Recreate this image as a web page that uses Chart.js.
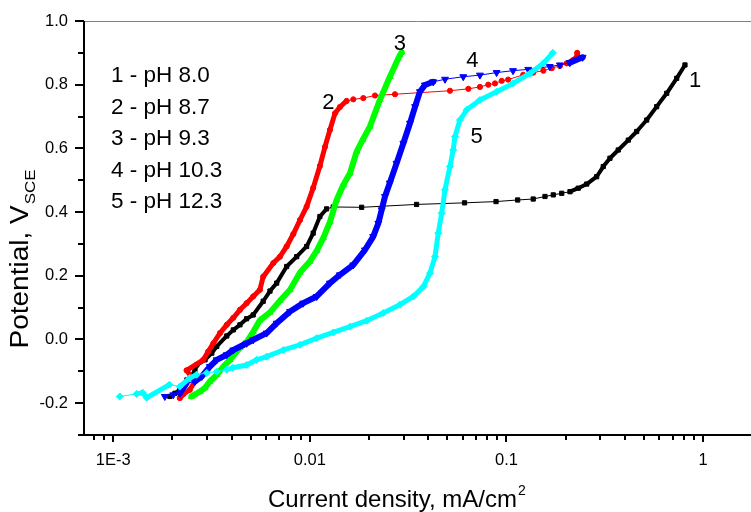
<!DOCTYPE html>
<html><head><meta charset="utf-8">
<script src="https://cdn.jsdelivr.net/npm/chart.js@4.4.1/dist/chart.umd.min.js"></script>
<style>html,body{margin:0;padding:0;background:#fff;overflow:hidden}canvas{display:block}</style>
</head><body>
<canvas id="c" width="751" height="512"></canvas>
<script>
// ---- data (current density in mA/cm2, potential in V vs SCE) ----
const seriesNames = ['1 - pH 8.0', '2 - pH 8.7', '3 - pH 9.3', '4 - pH 10.3', '5 - pH 12.3'];
const curveTags = ['1', '2', '3', '4', '5'];
const xTickValues = [0.001, 0.01, 0.1, 1];
const xTickLabels = ['1E-3', '0.01', '0.1', '1'];
const yTickValues = [-0.2, 0.0, 0.2, 0.4, 0.6, 0.8, 1.0];
const yTickLabels = ['-0.2', '0.0', '0.2', '0.4', '0.6', '0.8', '1.0'];

// 1 - pH 8.0 (black squares)
const j1 = [0.00194,0.00206,0.00218,0.00237,0.0026,0.00266,0.00293,0.00317,0.00336,0.00378,0.00408,0.00441,0.00477,0.00515,0.00579,0.00627,0.00678,0.00762,0.00857,0.00963,0.0104,0.01125,0.01217,0.01315,0.01834,0.0349,0.0612,0.0885,0.114,0.1368,0.157,0.173,0.191,0.2104,0.2317,0.256,0.2875,0.3107,0.336,0.3703,0.4165,0.4595,0.5167,0.5808,0.653,0.734,0.809];
const e1 = [-0.179,-0.169,-0.158,-0.127,-0.101,-0.080,-0.064,-0.043,-0.022,0.011,0.030,0.046,0.065,0.077,0.120,0.152,0.177,0.229,0.260,0.292,0.334,0.386,0.410,0.416,0.415,0.424,0.429,0.433,0.438,0.441,0.449,0.454,0.459,0.464,0.475,0.488,0.511,0.543,0.569,0.595,0.626,0.653,0.689,0.731,0.773,0.820,0.862];

// 2 - pH 8.7 (red circles)
const j2 = [0.00218,0.00227,0.00245,0.0026,0.00236,0.00287,0.00304,0.00323,0.00349,0.00378,0.00408,0.00441,0.00477,0.00515,0.00557,0.00579,0.00652,0.00705,0.00762,0.00824,0.00891,0.00963,0.0104,0.01125,0.01194,0.01265,0.01343,0.01422,0.01538,0.01663,0.0187,0.02143,0.0271,0.0516,0.064,0.0733,0.0808,0.0874,0.0946,0.102,0.1217,0.1368,0.154,0.17,0.187,0.2023,0.2188,0.2286,0.229];
const e2 = [-0.184,-0.172,-0.158,-0.132,-0.097,-0.064,-0.038,-0.012,0.020,0.046,0.068,0.093,0.114,0.135,0.156,0.197,0.240,0.260,0.292,0.331,0.375,0.417,0.476,0.545,0.605,0.658,0.710,0.730,0.749,0.754,0.758,0.766,0.770,0.781,0.787,0.793,0.800,0.804,0.812,0.816,0.831,0.838,0.844,0.852,0.859,0.867,0.878,0.888,0.900];

// 3 - pH 9.3 (green up-triangles)
const j3 = [0.0025,0.00276,0.00293,0.0031,0.00336,0.00363,0.00392,0.00441,0.00477,0.00515,0.00557,0.00627,0.00705,0.00793,0.00891,0.01,0.01083,0.01171,0.01265,0.01368,0.01479,0.016,0.0173,0.01862,0.02022,0.02274,0.02553,0.02871,0.0293];
const e3 = [-0.179,-0.164,-0.152,-0.132,-0.111,-0.085,-0.064,-0.026,-0.008,0.024,0.060,0.085,0.122,0.156,0.210,0.245,0.278,0.319,0.369,0.438,0.485,0.522,0.590,0.628,0.669,0.753,0.825,0.893,0.902];

// 4 - pH 10.3 (blue down-triangles)
const j4 = [0.00183,0.00202,0.00218,0.00236,0.0026,0.00282,0.0031,0.00336,0.00378,0.00408,0.00477,0.00515,0.00603,0.00678,0.00793,0.00925,0.01083,0.01265,0.01422,0.01663,0.01906,0.021,0.0223,0.0232,0.0241,0.0255,0.0276,0.0299,0.0323,0.0343,0.0363,0.0385,0.0424,0.0487,0.0603,0.0733,0.0891,0.108,0.129,0.166,0.187,0.21,0.244];
const e4 = [-0.179,-0.174,-0.169,-0.137,-0.132,-0.116,-0.085,-0.064,-0.048,-0.033,-0.012,-0.001,0.020,0.051,0.088,0.114,0.135,0.177,0.203,0.234,0.281,0.323,0.365,0.407,0.449,0.491,0.553,0.616,0.679,0.731,0.778,0.799,0.809,0.817,0.825,0.830,0.838,0.844,0.848,0.857,0.862,0.869,0.886];

// 5 - pH 12.3 (cyan diamonds)
const j5 = [0.00108,0.001315,0.00141,0.00148,0.00193,0.00218,0.00245,0.00265,0.00299,0.00336,0.00378,0.00406,0.00477,0.00536,0.00603,0.00733,0.0089,0.01084,0.01315,0.016,0.01945,0.0236,0.0287,0.0336,0.0378,0.0408,0.0433,0.045,0.0468,0.0487,0.0516,0.0536,0.0547,0.058,0.0628,0.0733,0.0891,0.108,0.132,0.154,0.172];
const e5 = [-0.179,-0.171,-0.167,-0.183,-0.142,-0.148,-0.121,-0.111,-0.105,-0.101,-0.095,-0.089,-0.080,-0.064,-0.054,-0.033,-0.017,0.004,0.022,0.040,0.059,0.083,0.109,0.135,0.166,0.208,0.260,0.334,0.396,0.470,0.543,0.595,0.637,0.689,0.721,0.752,0.778,0.804,0.836,0.867,0.900];

// curve tag anchor points (data units)
const tagX = [0.91, 0.01243, 0.0287, 0.0671, 0.0704];
const tagY = [0.816, 0.750, 0.9325, 0.881, 0.641];

// ---- chart ----
const FONT = '"Liberation Sans", Arial, Helvetica, sans-serif';

function makeSet(i, xs, ys, color, style, r, rot, thick, slope) {
  return {
    label: seriesNames[i],
    data: xs.map((v, k) => ({ x: v, y: ys[k] })),
    showLine: true, fill: false, tension: 0,
    borderColor: color, backgroundColor: color,
    pointBackgroundColor: color, pointBorderColor: color, pointBorderWidth: 1,
    pointStyle: style, pointRadius: r, pointRotation: rot, pointHoverRadius: r,
    borderWidth: 1, borderJoinStyle: 'round', borderCapStyle: 'round',
    order: 5 - i,
    segment: {
      borderWidth: c => {
        const dx = Math.abs(c.p1.x - c.p0.x), dy = Math.abs(c.p1.y - c.p0.y);
        return dy >= slope * dx ? thick : 1;
      }
    }
  };
}

const decor = {
  id: 'decor',
  afterDraw(chart) {
    const { ctx, chartArea: a, scales: { x, y } } = chart;
    ctx.save();
    // top frame line
    ctx.strokeStyle = '#808080'; ctx.lineWidth = 1;
    ctx.beginPath(); ctx.moveTo(a.left, a.top + 0.5); ctx.lineTo(a.right, a.top + 0.5); ctx.stroke();
    // axes
    ctx.strokeStyle = '#000'; ctx.lineWidth = 2;
    ctx.beginPath();
    ctx.moveTo(a.left, a.top); ctx.lineTo(a.left, a.bottom + 1);
    ctx.moveTo(a.left - 1, a.bottom); ctx.lineTo(a.right, a.bottom);
    // x ticks (major at decades, minor 2..9)
    for (let e = -4; e <= 1; e++) for (let m = 1; m <= 9; m++) {
      const v = m * Math.pow(10, e);
      if (v < x.min || v > x.max) continue;
      const px = Math.round(x.getPixelForValue(v));
      ctx.moveTo(px, a.bottom); ctx.lineTo(px, a.bottom + (m === 1 ? 7 : 5));
    }
    // y ticks (major 0.2, minor 0.1)
    for (let k = -3; k <= 10; k++) {
      const py = Math.round(y.getPixelForValue(k / 10));
      ctx.moveTo(a.left, py); ctx.lineTo(a.left - (k % 2 === 0 ? 9 : 6), py);
    }
    ctx.stroke();

    ctx.fillStyle = '#000';
    ctx.textBaseline = 'alphabetic';
    // legend text
    ctx.font = `22.5px ${FONT}`;
    ctx.textAlign = 'left';
    seriesNames.forEach((t, i) => ctx.fillText(t, a.left + 27, a.top + 61 + i * 31.5));
    // curve tags
    ctx.font = `22px ${FONT}`;
    ctx.textAlign = 'center';
    curveTags.forEach((t, i) => {
      ctx.fillText(t, x.getPixelForValue(tagX[i]), y.getPixelForValue(tagY[i]) + 7.9);
    });
    // x axis title
    ctx.textAlign = 'left';
    ctx.font = `24px ${FONT}`;
    const xt = 'Current density, mA/cm';
    const xl = a.left + 184, xb = a.bottom + 72;
    ctx.fillText(xt, xl, xb);
    const xw = ctx.measureText(xt).width;
    ctx.font = `14px ${FONT}`;
    ctx.fillText('2', xl + xw + 1, xb - 12);
    // y axis title
    ctx.save();
    ctx.translate(a.left - 56, a.top + 327.5);
    ctx.rotate(-Math.PI / 2);
    ctx.scale(1.12, 1);
    ctx.font = `25px ${FONT}`;
    const yt = 'Potential, V';
    ctx.fillText(yt, 0, 0);
    const yw = ctx.measureText(yt).width;
    ctx.font = `15px ${FONT}`;
    ctx.fillText('SCE', yw + 1, 7);
    ctx.restore();
    ctx.restore();
  }
};

new Chart(document.getElementById('c'), {
  type: 'scatter',
  data: {
    datasets: [
      makeSet(0, j1, e1, '#000000', 'rect', 3, 0, 4, 0.3),
      makeSet(1, j2, e2, '#ff0000', 'circle', 2.6, 0, 5, 0.5),
      makeSet(2, j3, e3, '#00ff00', 'triangle', 3.6, 0, 6, 0),
      makeSet(3, j4, e4, '#0000ff', 'triangle', 4, 180, 6, 0.3),
      makeSet(4, j5, e5, '#00ffff', 'rectRot', 3.5, 0, 5, 0.2)
    ]
  },
  options: {
    responsive: false, animation: false, devicePixelRatio: 1,
    layout: { autoPadding: false, padding: { top: 21, left: 0, right: 0, bottom: 0 } },
    plugins: { legend: { display: false }, tooltip: { enabled: false } },
    scales: {
      x: {
        type: 'logarithmic', min: 7.1e-4, max: 1.753,
        border: { display: false },
        grid: { display: false, drawTicks: false },
        afterBuildTicks: s => { s.ticks = xTickValues.map(v => ({ value: v })); },
        afterFit: s => { s.height = 77; s.paddingLeft = 0; s.paddingRight = 0; },
        ticks: {
          autoSkip: false, maxRotation: 0, minRotation: 0, padding: 16, color: '#000',
          font: { family: FONT, size: 16.5 },
          callback: (v, i) => xTickLabels[i]
        }
      },
      y: {
        type: 'linear', min: -0.3, max: 1.0,
        border: { display: false },
        grid: { display: false, drawTicks: false },
        afterBuildTicks: s => { s.ticks = yTickValues.map(v => ({ value: v })); },
        afterFit: s => { s.width = 84; s.paddingTop = 0; s.paddingBottom = 0; },
        ticks: {
          autoSkip: false, padding: 16, color: '#000',
          font: { family: FONT, size: 16.5 },
          callback: (v, i) => yTickLabels[i]
        }
      }
    }
  },
  plugins: [decor]
});
</script>
</body></html>
